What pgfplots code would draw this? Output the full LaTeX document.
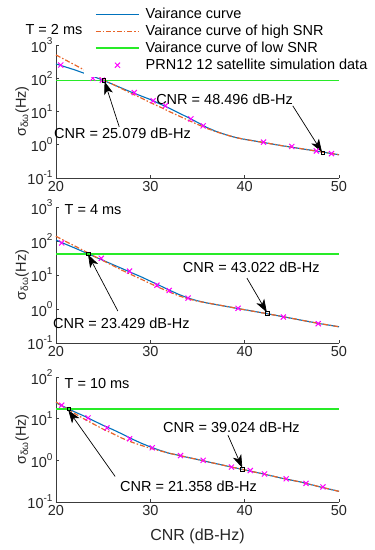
\documentclass[border=0pt]{standalone}
\usepackage{pgfplots}
\pgfplotsset{compat=1.18}
\usepackage{fontspec}
\setmainfont{Liberation Sans}
\usetikzlibrary{arrows.meta}
\definecolor{mblue}{RGB}{0,114,189}
\definecolor{morange}{RGB}{232,100,40}
\definecolor{mgreen}{RGB}{40,235,40}
\definecolor{mmag}{RGB}{255,0,255}
\definecolor{axgray}{RGB}{60,60,60}
\newcommand\sups[1]{\raisebox{0.5em}{\fontsize{10}{10}\selectfont #1}}
\newcommand\fs{\fontsize{14.5}{16}\selectfont}
\tikzset{
  annstyle/.style={font=\fs, text=black},
  arrstyle/.style={draw=black, line width=0.7pt, -{Stealth[length=13pt,width=9pt,inset=3.5pt]}},
}
\pgfplotsset{
  every axis/.append style={
    scale only axis, width=283pt, xmin=20, xmax=50,
    axis x line*=bottom, axis y line*=left,
    axis line style={draw=axgray, line width=0.7pt, -},
    tick align=inside, yminorticks=false,
    major tick length=3.5pt,
    tick style={draw=axgray, line width=0.7pt},
    xtick={20,30,40,50},
    /pgf/number format/assume math mode=true,
    tick label style={font=\fs, text=black!85},
    ylabel={σ\textsubscript{δω}(Hz)},
    clip=false,
  },
  every axis y label/.style={at={(axis description cs:-0.12,0.5)}, rotate=90, anchor=center, font=\fs, text=black!85},
  blstyle/.style={color=mblue, draw=mblue, line width=1.1pt, no marks, solid},
  orstyle/.style={color=morange, draw=morange, line width=1.2pt, no marks, dash pattern=on 5pt off 2pt on 1.5pt off 2pt},
  grstyle/.style={color=mgreen, draw=mgreen, line width=1.5pt, no marks, solid},
  mkstyle/.style={only marks, mark=x, mark size=3.6pt, color=mmag, draw=mmag, mark options={draw=mmag, line width=1pt, solid}},
  sqstyle/.style={only marks, mark=square, mark size=1.8pt, color=black, draw=black, mark options={draw=black, line width=0.7pt, solid}, forget plot},
}
\begin{document}
\begin{tikzpicture}
\useasboundingbox (0,0) rectangle (375pt,550pt);
% ---------------- T = 2 ms ----------------
\begin{semilogyaxis}[at={(56pt,372pt)}, anchor=south west, height=133pt,
  ymin=0.1, ymax=1000, ytick={0.1,1,10,100,1000},
  yticklabels={10\sups{-1},10\sups{0},10\sups{1},10\sups{2},10\sups{3}},
  legend image code/.code={\draw[mark repeat=2,mark phase=2,#1] plot coordinates {(0pt,0pt) (21.5pt,0pt) (43pt,0pt)};},
  legend style={at={(axis description cs:0.099,1.323)}, anchor=north west, draw=none, fill=white,
    inner xsep=11pt, inner ysep=5pt, row sep=3pt, column sep=6pt, font=\fs,
    nodes={inner sep=0pt, text height=11pt, text depth=3pt, anchor=west}},
  legend cell align=left]
\addplot[blstyle] coordinates {(20,269)(21,219)(22,178)(23,141)(24,112)(25,87)(26,66)(27,50)(28,38)(29,29.5)(30,22.9)(31,17.0)(32,12.6)(33,9.1)(34,6.6)(35,4.7)(36,3.3)(37,2.5)(38,2.0)(39,1.66)(40,1.45)(42,1.17)(44,0.93)(46,0.76)(48,0.62)(50,0.50)};
\addlegendentry{Vairance curve}
\addplot[orstyle] coordinates {(20,501)(21,355)(22,251)(23,178)(24,126)(25,91)(26,66)(27,48)(28,34.7)(29,25.7)(30,18.6)(31,13.8)(32,10)(33,7.4)(34,5.5)(35,4.1)(36,3.1)(37,2.45)(38,2.0)(39,1.66)(40,1.45)(42,1.17)(44,0.93)(46,0.76)(48,0.62)(50,0.50)};
\addlegendentry{Vairance curve of high SNR}
\addplot[grstyle] coordinates {(20,85)(50,85)};
\addlegendentry{Vairance curve of low SNR}
\addplot[mkstyle] coordinates {(20.5,250)(23.9,100)(24.9,88)(28.3,37)(30.3,21)(31.6,15)(34.3,6.0)(35.6,3.7)(42.0,1.2)(45.0,0.89)(47.6,0.65)(49.2,0.54)};
\addlegendentry{PRN12 12 satellite simulation data}
\addplot[sqstyle] coordinates {(25.079,85)(48.3,0.57)};
\draw[arrstyle] (axis cs:26.7,3.47) -- (axis cs:25.15,80);
\node[annstyle] at (axis cs:27.05,2.14) {CNR = 25.079 dB-Hz};
\draw[arrstyle] (axis cs:45.1,14.8) -- (axis cs:48.2,0.6);
\node[annstyle] at (axis cs:37.87,24) {CNR = 48.496 dB-Hz};
\node[annstyle, anchor=west] at (axis description cs:-0.12,1.12) {T = 2 ms};
\end{semilogyaxis}
% ---------------- T = 4 ms ----------------
\begin{semilogyaxis}[at={(56pt,207pt)}, anchor=south west, height=136pt,
  ymin=0.1, ymax=1000, ytick={0.1,1,10,100,1000},
  yticklabels={10\sups{-1},10\sups{0},10\sups{1},10\sups{2},10\sups{3}}]
\addplot[blstyle] coordinates {(20,107)(21,81)(22,62)(23,47)(24,35.5)(25,26.9)(26,20.4)(27,15.5)(28,11.7)(29,8.9)(30,6.6)(31,4.9)(32,3.6)(33,2.7)(34,2.1)(35,1.74)(36,1.51)(38,1.20)(40,0.95)(42,0.76)(44,0.60)(46,0.47)(48,0.37)(50,0.30)};
\addplot[orstyle] coordinates {(20,138)(21,98)(22,71)(23,51)(24,36.3)(25,26.3)(26,19.1)(27,13.8)(28,10.2)(29,7.6)(30,5.6)(31,4.2)(32,3.2)(33,2.45)(34,2.0)(35,1.70)(36,1.51)(38,1.20)(40,0.95)(42,0.76)(44,0.60)(46,0.47)(48,0.37)(50,0.30)};
\addplot[grstyle] coordinates {(20,42)(50,42)};
\addplot[mkstyle] coordinates {(20.6,88)(24.8,31)(27.8,13)(30.7,5.0)(32.0,3.5)(34.0,2.1)(39.3,1.05)(44.1,0.58)(47.8,0.37)};
\addplot[sqstyle] coordinates {(23.429,42)(42.4,0.73)};
\draw[arrstyle] (axis cs:26.56,0.87) -- (axis cs:23.4,40);
\node[annstyle] at (axis cs:26.93,0.39) {CNR = 23.429 dB-Hz};
\draw[arrstyle] (axis cs:40.24,8.1) -- (axis cs:42.35,0.80);
\node[annstyle] at (axis cs:40.7,17) {CNR = 43.022 dB-Hz};
\node[annstyle, anchor=west] at (axis description cs:0.018,0.978) {T = 4 ms};
\end{semilogyaxis}
% ---------------- T = 10 ms ----------------
\begin{semilogyaxis}[at={(56pt,48pt)}, anchor=south west, height=125pt,
  ymin=0.1, ymax=100, ytick={0.1,1,10,100},
  yticklabels={10\sups{-1},10\sups{0},10\sups{1},10\sups{2}},
  xlabel={CNR (dB-Hz)},
  every axis x label/.style={at={(axis description cs:0.5,-0.272)}, anchor=center, font=\fontsize{16}{18}\selectfont, text=black!85}]
\addplot[blstyle] coordinates {(20,24)(21,18.6)(22,14.5)(23,11.5)(24,8.9)(25,6.9)(26,5.5)(27,4.3)(28,3.3)(29,2.6)(30,2.1)(31,1.74)(32,1.48)(33,1.32)(34,1.17)(35,1.05)(36,0.93)(38,0.74)(40,0.59)(42,0.47)(44,0.37)(46,0.30)(48,0.23)(50,0.18)};
\addplot[orstyle] coordinates {(20,25)(21,18.2)(22,13.2)(23,9.8)(24,7.4)(25,5.6)(26,4.4)(27,3.4)(28,2.75)(29,2.3)(30,1.95)(31,1.70)(32,1.48)(33,1.32)(34,1.17)(35,1.05)(36,0.93)(38,0.74)(40,0.59)(42,0.47)(44,0.37)(46,0.30)(48,0.23)(50,0.18)};
\addplot[grstyle] coordinates {(20,17.2)(50,17.2)};
\addplot[mkstyle] coordinates {(20.6,21)(23.4,10.4)(25.4,6.0)(27.8,3.3)(30.2,2.0)(33.2,1.3)(35.6,1.0)(38.6,0.69)(40.6,0.57)(42.1,0.47)(44.4,0.36)(46.5,0.28)(48.3,0.23)};
\addplot[sqstyle] coordinates {(21.358,17.3)(39.75,0.6)};
\draw[arrstyle] (axis cs:26.27,0.41) -- (axis cs:21.3,16);
\node[annstyle] at (axis cs:34.05,0.24) {CNR = 21.358 dB-Hz};
\draw[arrstyle] (axis cs:38.23,4.0) -- (axis cs:39.75,0.66);
\node[annstyle] at (axis cs:38.6,6.2) {CNR = 39.024 dB-Hz};
\node[annstyle, anchor=west] at (axis description cs:0.018,0.944) {T = 10 ms};
\end{semilogyaxis}
\end{tikzpicture}
\end{document}
